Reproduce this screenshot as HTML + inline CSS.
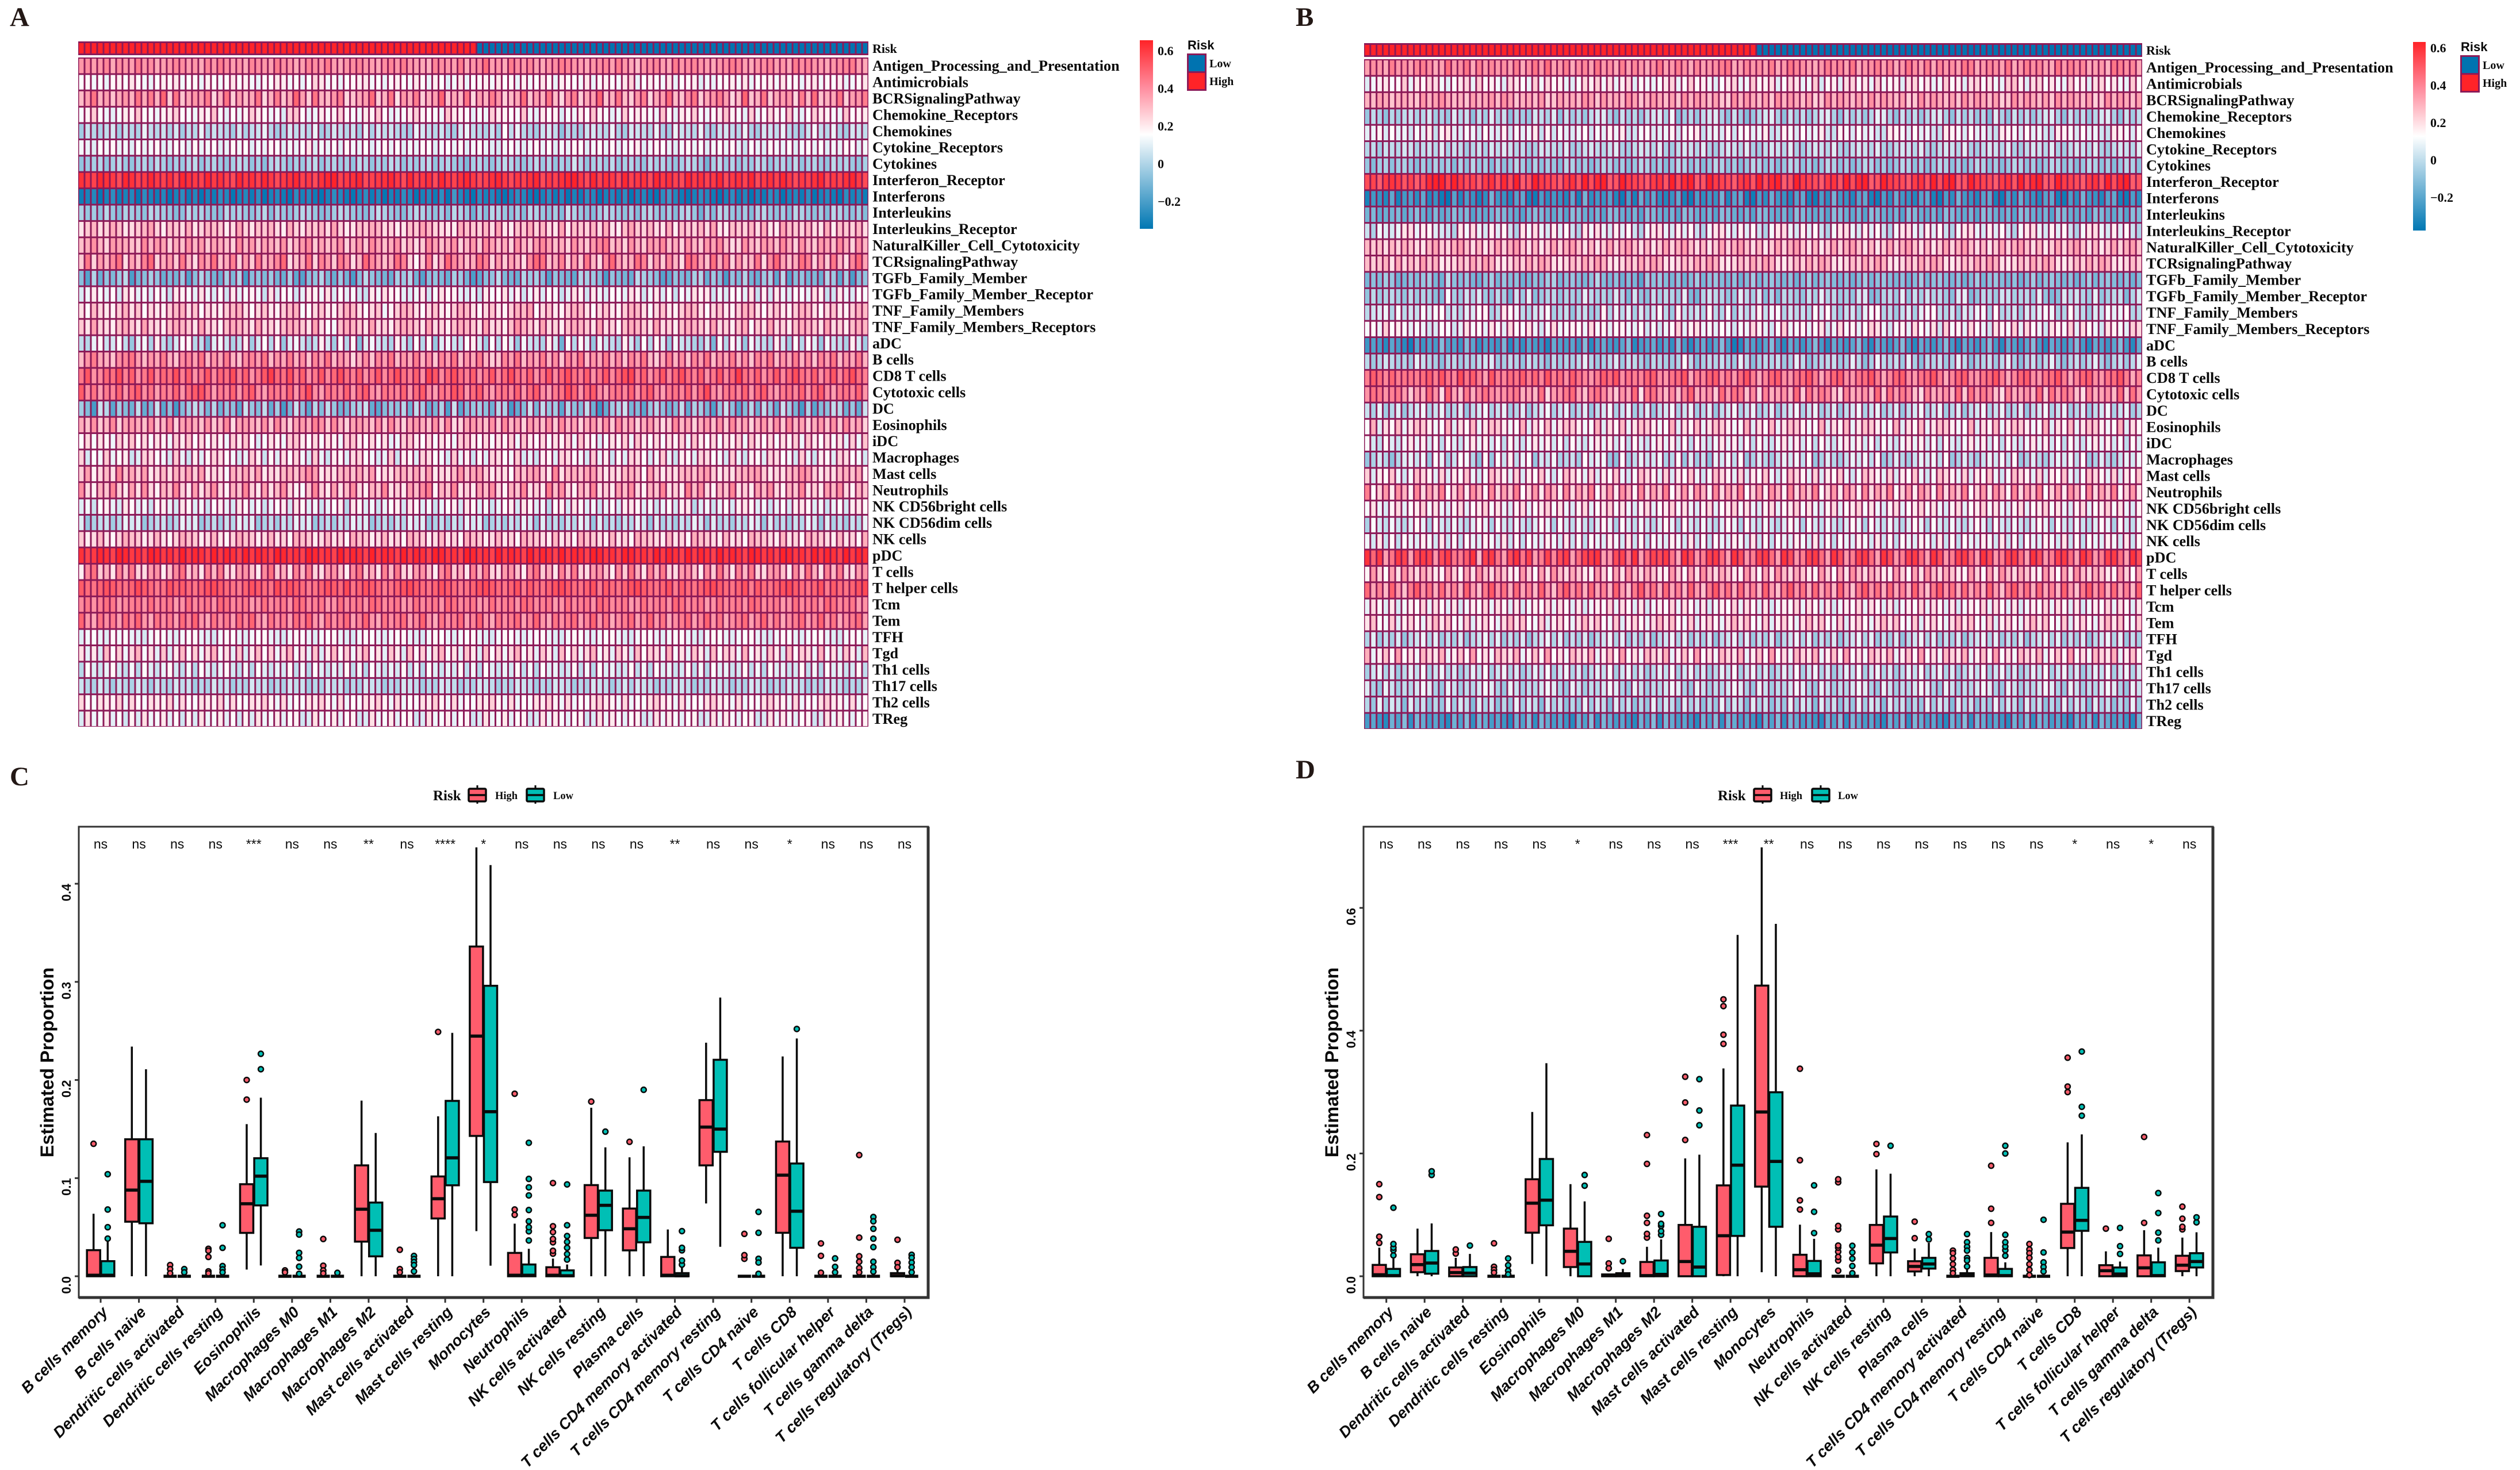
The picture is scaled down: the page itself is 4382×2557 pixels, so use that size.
<!DOCTYPE html>
<html>
<head>
<meta charset="utf-8">
<title>Immune infiltration heatmaps and boxplots</title>
<style>
html,body{margin:0;padding:0;background:#fff}
svg{display:block}
.ser{font-family:"Liberation Serif",serif;font-weight:bold;fill:#0a0a0a}
.san{font-family:"Liberation Sans",sans-serif;fill:#0a0a0a}
</style>
</head>
<body>
<svg id="fig" xmlns="http://www.w3.org/2000/svg" width="4382" height="2557" viewBox="0 0 4382 2557">
<defs>
<linearGradient id="cbGrad" x1="0" y1="0" x2="0" y2="1">
<stop offset="0" stop-color="#ff2328"/><stop offset="0.25" stop-color="#ff8c9e"/><stop offset="0.5" stop-color="#ffffff"/><stop offset="1" stop-color="#0077b3"/>
</linearGradient>
</defs>
<rect width="4382" height="2557" fill="#fff"/>
<text class="ser" x="17" y="45" font-size="47" style="fill:#231815">A</text>
<text class="ser" x="2253" y="45" font-size="47" style="fill:#231815">B</text>
<text class="ser" x="17" y="1366" font-size="47" style="fill:#231815">C</text>
<text class="ser" x="2253" y="1354" font-size="47" style="fill:#231815">D</text>
</svg>
<script>
const heatRows=["Antigen_Processing_and_Presentation","Antimicrobials","BCRSignalingPathway","Chemokine_Receptors","Chemokines","Cytokine_Receptors","Cytokines","Interferon_Receptor","Interferons","Interleukins","Interleukins_Receptor","NaturalKiller_Cell_Cytotoxicity","TCRsignalingPathway","TGFb_Family_Member","TGFb_Family_Member_Receptor","TNF_Family_Members","TNF_Family_Members_Receptors","aDC","B cells","CD8 T cells","Cytotoxic cells","DC","Eosinophils","iDC","Macrophages","Mast cells","Neutrophils","NK CD56bright cells","NK CD56dim cells","NK cells","pDC","T cells","T helper cells","Tcm","Tem","TFH","Tgd","Th1 cells","Th17 cells","Th2 cells","TReg"];
const riskCountsA=[63,62];
const riskCountsB=[63,62];
const cbTicks=[0.6,0.4,0.2,0,-0.2];
const rowMeansA=[0.38,0.17,0.36,0.18,0.03,0.13,-0.02,0.60,-0.30,-0.03,0.27,0.33,0.35,-0.08,0.14,0.24,0.27,0.07,0.36,0.47,0.44,-0.05,0.33,0.20,0.17,0.28,0.30,0.13,0.03,0.25,0.62,0.33,0.50,0.43,0.42,0.13,0.20,0.09,0.03,0.20,0.14];
const rowMeansB=[0.35,0.14,0.29,-0.02,0.07,0.00,-0.06,0.55,-0.27,-0.15,0.08,0.26,0.25,-0.10,-0.03,0.03,0.13,-0.20,-0.01,0.41,0.36,0.00,0.18,0.08,0.02,0.15,0.27,0.13,0.04,0.08,0.45,0.25,0.38,0.12,0.16,-0.01,0.20,0.01,0.00,-0.02,-0.22];
const residualsA=[
"mnlmoknmlpmnklmonlmkompnlmkonmlpnmklonmplkmnomlknompmlkjonmlpkmnrlmkpnmolkmnpomlkmnolpmkimnolkpmnomlkmnpolkmnolmkpnomlkmnoplk",
"lmkljmnlomkjlnmoklmjnlkmolnkjmlonkmjlqokmjlmnokljmnlkomjnlikojlmnkolmjnklomjnmlkojmnlkoqjlnmkojlmnikjlmnkojlmnkolmjnokmlnjkmor",
"jmrkmilnkrlqkthrilnmqgkrhmjlrgkqiltmhrkjnqgilmshkrfnlqhkmtiljrgmkqnhjlsimkrjgnqhlmtikrjhnqglmsjiorhlnqmgjtikrhlmngqjsiklrhmnqg",
"kmqljiknmrlkjmnqlkjnmrkiljmqnljkhqrlijnkmqlkjnmrlijknqmlkjrnmlikjqnmlkrjinlmhkjnlrmkijqlnmkjrlinmqkjlnrmkiqjlpmkrjilqnmkjrlmnq",
"jnlkmojnlkqmlnkojmlqknmljokmnqljkomnlqjkomlnjqkomnlkjqomlnkjoqmlknjsmqlkjnomhlkjnomlqkjonmlqkjqnmlqkjnomlqkjonmqlkjnrmlqkjonml",
"mlknmolmknlmoklnmkolmnklomnkmlonkmlnqkmlnkomlnkmolnkmlonkmnlokmnlkjmnlkmolnkmlonkmnlokmnpkmonlkmolnkmnlokinlkomlnkmolnkmlonkmn",
"klmnkmolkmnlomkmlnokmnlkmonkmjnomkmlnokmnlmkonkmlonkmlnokmnlkimnlkmonlkmolnkmlqnkmnlokmnlkomnlkmonlhmolnkmlonkmnlokmnlkomnlkm",
"nmlonmkonlmomlnkonmlomnlkomnlomkmnolmknoplmnoklmnomkolmnkomlnomklnomkmlnokmlnopmkolnmkolmnkomnlkomnlmokmnlokmnlomkmlnokmlnomk",
"lmnkmolmnkomlnkmolnkmlonkmnlokmnlkomnlkmonlkmolnkmlonkmnlokqnlkomnlkmonlkmolnkmlonkmnlokmnlkoqnlkmonlkmolnkmlonkmnlokmnlkomnl",
"nlmkoljnmlkonmljkomnlkjomnlkmojnlkmonljkmonlkjmpnlkjmonlkmjonlhmjonlkmjonlkmjqnlkjmonlkmjnolkmjnolhmjonlkmjnolkmjonlkmjonlkmjo",
"jmoklpnjkmoqlinmkpjlonmikqljnmokipljnmokqlijnmpoklijnmqolkjipnmlokqjinmplokjqinmlokpjinqmlokjpinmlokqjinmlokpjiqnmlokjpinmlokq",
"kmplionmkjqlonimkplojnmkiqlojnmkpiloqjnkmpilojqnkmpilhjqnkmpilojqnkmipljoqnkmipljoqskmipljonqkmipljonqkhipljonkqmipljonkqmipljo",
"irhnkpsgmjqthlnirkgpmsjlqhnirkmptgjlshqnirogktpmjlsqhdirgktpmjlsqhnimkgptsjlqhnirkgptmjlsqhnipkgtrmjslqhnikrgptmjlsqhnirkgptmj",
"mhqjnlorgkmpnjlkohmqnkjplqgmnlokjpihmnqljokgmrnlkjpoqkhmnljpokgimnrlkjqopmhnlkiqpomgnlkjrpomhinlkpqjomgnlqkjopirhmnkljqoipgmnk",
"jlpmkniqokmjnlhpomkqljnipkmolhqjnmikpolqjnkmihplqonkjlpimqnokjlhpmnqkoilpjnmhkqoipljnmkqoilpjnhmkqopiljnmkqhoipljnmkqohipljnmk",
"lipmkjnqloimkjnpqloimkjnpqlimokjnpqhimokjnqplimogjnqplimokjnqplimokjnqpsimokjnqplimokjnqplhmokjnqplimokjnqplimokjnqplimokjnqpl",
"mjqlkinpmjqlkinpomjqlkhnpomjqklinpomjqkgfnpomjqklinpomjqklinpomjqklinsomjqklinpomjqklhnpomjqklinpomjqklinpgmjqklinpomjqklinpom",
"kjorlmqkgnpiskhmqrjkdnplikshmqjrgnpliksmhqjrenplkismhqjrgnplkqsmhqjrngplkismcqjrngplkismhqjrngplkihmdqjrngplkismhqjrngplkismhqr",
"jnqlkioprmjnlqkiopmrjnlqkiopmrjnlqkoipmrjnlgkoipmrjnlqkoipmrjnlqkhipmrjnlqkoipmrjnlqkoipmrjhlqkoipmrjnlqkoipmrjnlqkoipmrjnlqko",
"lpijnmqkoilpjnmqkoilpjnmqkoilpsnmqkoilpjnqmkoilpjnqmkoirpjnqmkoilpjnqmkoilpjnqmkoilpjnqrkoilpjnqmkoilpjnsmkoilpjnqmkoilpjnqmko",
"qknimlpjoqknimlpjoqrnimlpjoqkinmlpjoskinmlpjoqkinmlpjoqkinmrpjoqkimnlpjoqkimnspjoqkimnlpjoqkimnlpjoskimnlpjoqkimnlpjoqkimnlpjo",
"nkerpgnkiqhjrgleknqojpimlgrmkqhnejrlgpkqmijnorhgkmlpiqnhjofrgkmnlipoehkrjqmngplkqidhnorjkgmplikqhonjfmrlgkpiqmhrnjeogklqpimhrn",
"mkpjlqinomkpjlqinomkpjlqhnomkpjqlinomrpjqlinomkpjqlinomkpjqhinomkpjqlniomkpjqlnimokpjqlnimokhjqlnimokpjqlnimokpjqlnimokpjqlnim",
"kojnlipmqkojnlipmqkojnlipmqkgjnlipqmkojnlipqmkojnhipqmkojnlipqmkojnlpiqmkojnlpiqmkgjnlpiqmkojnlpiqmkojnlpiqmkojnlpiqmkojnhpiqm",
"qhlkrjmngiqplkhrjgnimqplkhjrngmiplqkhrjgnmipqlkhjrgnmiqplkhrjngmiqplkrhjgnmiqplkhrjngmiqplhkrjgnmiqplkhrjgnmiqplkhrjgnmiqplkhr",
"lqhknjtmplqiknjomplqikjfomplqikjnompsqikjnomplqhkjnomplqikjnrmpqlikjgompqlitjnompqlikjnomgqlikjnompqlikjnopqlikjnosqlikjnomphj",
"rjgnlskhpirjgnlskhpimrjgnlskhpimrjgelskhpimrjgnlsikhpmrtgnlsikhpmrjgnlsikhtmrjgnlsikhpmrjgnlsikhtmrjgnlsikhpmrjgnlsikhpmrjgnls",
"kminpljqokmiopljqokminpljqokmilnpjqokmilnpgqokmilnpjqokmilnpjqokmilnpjqokmgnpjqokmilnjpqokmilnjpqgkmilnjpqokmilnjpqokmilnjpqo",
"pikmnjlqopikmnjlqopikmjnlqopikmjnlqopikmjnlqopikmjnlqopikmjnlqopikmjnlqoipkmjnlqoipkmjnlqoipkmjnlqoipkmjnlqoipkmjnlqoipkmjnlqo",
"njlpkimqonjlpkimqonjlpkimqonjlpkmiqonjlpkmiqonjlpkmiqonjlpkmiqonjlpkmiqonljpkmiqonljpkmiqonljpkmiqonljpkmiqonljpkmiqonljpkmiqo",
"mklnmkonlmkonlmkolnmkolnmkolnmkonlmkonlmkolnmkolnmkolnmkonlmkonlmkolnmkolnmkolnmkonlmkonlmkolnmkolnmkolnmkonlmkonlmkolnmkolnmk",
"fqtjmgrlsihopfkqtjmgrlsihopkfqtjmgrlsihopkfqtjmgrlsihopkfqtjmgrlsihopkfqtjmgrlsihopkfqjtmgrlsihopkfqjtmgrlsihopkfqjtmgrlsihopk",
"nlkmonlkmpnljkomnlkmopnlkjmonlkpmonljkmonlpkmonljkmopnlkmonljkmopnlkmojnlkmopnlkmojnlkmopnlkmojnlkmopnlkmojnlkmopnlkmojnlkmopn",
"lnkmonjlmnkolmnjkolmnkpolmnjkolmnkpolmnjkolmnkpolmnjkolmnkpolmnjkolmnkpolmnjkolmnkpolmnjkolmnkpolmnjkolmnkpolmnjkolmnkpolmnjko",
"qkiolnjpmqkiolnjpmqkiolnjpmqkiolnjpmqkiolnpjmqkiolnpjmqkiolnpjmqkiolnpjmqkiolnpjmqkoilnpjmqkoilnpjmqkoilnpjmqkoilnpjmqkoilnpjm",
"kmnlkomnlkjmonlkmnolkjmonlkmnolkjmonlkmnolkjmonlkmnolkjmonlkmnolkjmonlkmnolkjmonlkmnolkjmonlkmnolkjmonlkmnolkjmonlkmnolkjmonlk",
"nhmgrkpiosjnhqgmrkpiosjnhqgmrkpiosjnhqgmrkpiosjnhqmgrkpiosjnhqmgrkpiosjnhqmgrkpiosjnhqmgrkpoisjnhqmgrkpoisjnhqmgrkpoisjnhqmgrk",
"ipmknqljoipmknqljoipmknqljoipmknlqjoipmknlqjoipmknlqjoipmknlqjoipmknlqjoipmnklqjoipmnklqjoipmnklqjoipmnklqjoipmnklqjoipmnklqjo",
"nlkomjnlkomjnlkomnjlkomnjlkomnjlkomnjlkomnjlkonmjlkonmjlkonmjlkonmjlkonmjlkonmjlkonmjlokonmjlkonmjlkonmjlkonmjlkonmjlkonmjlkon",
"okjnmlpiokjnmlpiokjnmlpiokjnmplioikjnmplioikjnmplioikjnmplioikjnmplioikjnmplioikjnpmlioikjnpmlioikjnpmlioikjnpmlioikjnpmlioikj",
"jqlmpkniojqlmpkniojqlmpkniojqlmpknoijqlmpknoijqlmpknoijqlmpknoijqlmpknoijqlpmknoijqlpmknoijqlpmknoijqlpmknoijqlpmknoijqlpmknoi"
];
const residualsB=[
"lnmkpmnlopnklrmnqkpmomnlpknqmrlmpknolqmnkplomknqlmpnkolmnpqklomnlpkmqonlkmpnolqkmnplokmqnlpkomnlqpkmonlqkmpnolkqmpnoklmjqpnokl",
"iknolmrjomqpkiloqjrmnkiqoljrkqmnjilqnrkpjnqimkjloqjmrmnkiloqjkrmnpilqojkrhmnipqlojrkmnipqlojkrmnipqlokjrsnipqlokjrmnipqlokjrmn",
"mlonkmnlkpmoqnlmkomnplqokmnlpjkomnlqokpmnlqokmpnlokqmpnlokjqmpnlokqmpnlojkqmpnlokqmpnlojkqmpnlokqmpnlojkqmpnlokqmpnlojkqmpnlok",
"jnlimknolmpkljqmoinkqloimkjpnlqiokmjnpqliokmjnpqlshkmjnpqliokhjmpqlioknjmpqlioknjmrqlioknjmpqlioknjmhqlioknjmpqlioknjmpqlioknj",
"mnqlpmnkomrjqsmlonkpmlqkomnrjqkomlnpkomqnrjkoplmnqkoprjmnlqkopmnrjkqolpmnrkjqolpmnkjrqolpmnkjrqolpmnkjrqolpmnkjrqolpmnkjrqolpm",
"lmjnmlonkmnlpknmjlnkompnlmjkonmlpjknomlnpkjmonlpkjmonlpkjmonlpkjmonlpkjmonlpkjmonlpkjmonlpkjmonlpkjmonlpkjmonlpkjmonlpkjmonlpk",
"ljmnkmnljmknlmjnkolmjnklomjnkmljonkmjlonkmjlonkmjlonkmjlonkmjlonkmjlonkmjlonkmjlonkmjlonkmjlonkmjlonkmjlonkmjlonkmjlonkmjlonkm",
"lmjnonkmjlprsmqnlmjnokplrjksnmljnokqlprjksnmljnokqlprjksnmljnokqlprjksnmljnokqlprjksnmljnokqlprjksnmljnokqlprjksnmljnokqlprjks",
"jnmkqjnolqkmihpkomjlsnmkpqjiolnmkqjslnmpkiojrnqlkmqjiolnmskpqjiolrnmkpqjiolsnmkpqjiolrnmkpqjiolsnmkpqjiolrnmkpqjiolsnmkpqjiolr",
"mnklmnkmoljnklomnjlkmonlkjmonlkmjonlkmjonlkmjonlkmjonlkmjonlkmjonlkmjonlkmjonlkmjonlkmjonlkmjonlkmjonlkmjonlkmjonlkmjonlkmjonlk",
"jgnlkmrsmqplkjgrnsmkqlpjgrnsmkqlpjgrnsmkqlpjgnrsmkqlpjgnrsmkqlpjgnrsmkqlpjgnrsmkqlpjgnrsmkqlpjgnrsmkqlpjgnrsmkqlpjgnrsmkqlpjgn",
"nlmjnkomjinplkoqmjnilpkoqmjnilpkoqmjnilpkoqmjnilpkoqmjnilpkoqmjnilpkoqmjnilpkoqmjnilpkoqmjnilpkoqmjnilpkoqmjnilpkoqmjnilpkoqmjn",
"nlmojpknlqmoijknlpmqojiknlpmqojiknlpmqojiknlpmqojiknlpmqojiknlpmqojiknlpmqojiknlpmqojiknlpmqojiknlpmqojiknlpmqojiknlpmqojiknlpm",
"kmlonjkmlnokjrmlnkjmoknlmjkmlopkmnlkmqlkmjlkhomnlkmjlokmnlkmjlokmnlkmjlokmnlkmjlokmnlkmjlokmnlkmjlokmnlkmjlokmnlkmjlokmnlkmjlo",
"jnkmnljnkmlihtlkpmqkjnlgpkrikmnjmlkrnlmkqmhpjiolnmkrhgmpnmjkrnlqimhnmkjolrmnkljpqhimnkrjolpmnkiqrhjnmkpolmnkrjhiqnpmkrjlnohmqi",
"kmnpjqkmlqnqrkmjonrsiktrpkjmnqijlgklhisjpkoinjmqkhslkmjrkjqhnkmslpqjmkljqnrkhlmioqrjkhlnioqrkjmhnlpqirjkmhnloqpijrmkhnlqoprjkm",
"lmkrmoljlkhimlhjplmjpljqmlpkhlqklnmkqlnjmnkjmhlhkmrjnpkljmkhlkqnjhmrklnjmphkqlnjmrpkhlnjqmkphrlnjqmkhpnlrjqmkhpnlrjqmkhpnljrq",
"jlkhmkhfmjlkqlljqmilkjphlimkjgnlkmjqhlnkjmqhklnjmiqkhlnjmqkfhnljmqkhnljmqkhnljmqkhnljmqkhnljmqkhnljmqkhnljmqkhnljmqkhnljmqkhn",
"mjlomkljqnlkhlmjlkmopjkmlinlkhmjlkmqljkmpjnmkhmlkjlsmhkmlnkjqmhkmlnjkqmhklmnjkqmhkrmlnjqkhmlnjkqmhklnjmqkhlnjmqkhlnjmqkhlnjmq",
"mqolpmnnmoqmrnlsnqmirmlonqmplrmokqnljmqorknmlpqkjnorhmlpqknjormhlpqkjnormhlpqkjnormhlpqkjnormhlpqkjnormhlpqkjnormhlpqkjnormhl",
"mqpmoplgljrmeskhpjnqnlmopjkiqelmprkhoqnjgmkrdpqlinhosjkmgrlqphneojkmirgqlpnheojkmirgqlpnheojkmirgqlpnheojkmirgqlpnheojkmirgql",
"nkqjlpimorknqjlpimorknqjlpimorknqjlpimorknqjlpimorknqjlpimorknqjlpimorknqjlpimorknqjlpimorknqjlpimorknqjlpimorknqjlpimorknqjlp",
"jsgnkrhmqplijsgnkrhmqplijsgnkrhmqplijsgnkrhmqplijsgnkrhmqplijsgnkrhmqplijsgnkrhmqplijsgnkrhmqplijsgnkrhmqplijsgnkrhmqplijsgnkr",
"okipljnrmqkoipljnrmqkoipljnrmqkoipljnrmqkoipljnrmqkoipljnrmqkoipljnrmqkoipljnrmqkoipljnrmqkoipljnrmqkoipljnrmqkoipljnrmqkoiplj",
"hjnkgkopmqhrpimrqkgshrmtlprhnmqjkmirnpqhgrilpmnqjkrhoimgpnqlrhjokimpnqlrhjokimpnqlrhjokimpnqlrhjokimpnqlrhjokimpnqlrhjokimpnql",
"qhnlrjgkspmiqhnlrjgkspmiqhnlrjgkspmiqhnlrjgkspmiqhnlrjgkspmiqhnlrjgkspmiqhnlrjgkspmiqhnlrjgkspmiqhnlrjgkspmiqhnlrjgkspmiqhnlrj",
"tfkqhrngsjpltfkqhrngsjpltfkqhrngsjpltfkqhrngsjpltfkqhrngsjpltfkqhrngsjpltfkqhrngsjpltfkqhrngsjpltfkqhrngsjpltfkqhrngsjpltfkqhrn",
"lpkinqjmorlpkinqjmorlpkinqjmorlpkinqjmorlpkinqjmorlpkinqjmorlpkinqjmorlpkinqjmorlpkinqjmorlpkinqjmorlpkinqjmorlpkinqjmorlpkinq",
"iqmkpljnroiqmkpljnroiqmkpljnroiqmkpljnroiqmkpljnroiqmkpljnroiqmkpljnroiqmkpljnroiqmkpljnroiqmkpljnroiqmkpljnroiqmkpljnroiqmkpl",
"nkrjpiomlqnkrjpiomlqnkrjpiomlqnkrjpiomlqnkrjpiomlqnkrjpiomlqnkrjpiomlqnkrjpiomlqnkrjpiomlqnkrjpiomlqnkrjpiomlqnkrjpiomlqnkrjpi",
"tnsglsrgqsrhqslkotdrslgqtlrgkrjqsgmrstghqrktgmrqslftqhkrsmgtqhkrsmgtqhkrsmgtqhkrsmgtqhkrsmgtqhkrsmgtqhkrsmgtqhkrsmgtqhkrsmgtqh",
"hrlgqjsnkpmihrlgqjsnkpmihrlgqjsnkpmihrlgqjsnkpmihrlgqjsnkpmihrlgqjsnkpmihrlgqjsnkpmihrlgqjsnkpmihrlgqjsnkpmihrlgqjsnkpmihrlgqj",
"qjnhrkgoslpiqjnhrkgoslpiqjnhrkgoslpiqjnhrkgoslpiqjnhrkgoslpiqjnhrkgoslpiqjnhrkgoslpiqjnhrkgoslpiqjnhrkgoslpiqjnhrkgoslpiqjnhrk",
"kqnjpilomrkqnjpilomrkqnjpilomrkqnjpilomrkqnjpilomrkqnjpilomrkqnjpilomrkqnjpilomrkqnjpilomrkqnjpilomrkqnjpilomrkqnjpilomrkqnjpi",
"nrkjqhmpliosnrkjqhmpliosnrkjqhmpliosnrkjqhmpliosnrkjqhmpliosnrkjqhmpliosnrkjqhmpliosnrkjqhmpliosnrkjqhmpliosnrkjqhmpliosnrkjqh",
"lqjnkpimorlqjnkpimorlqjnkpimorlqjnkpimorlqjnkpimorlqjnkpimorlqjnkpimorlqjnkpimorlqjnkpimorlqjnkpimorlqjnkpimorlqjnkpimorlqjnkp",
"rgkpjtimhqnlrgkpjtimhqnlrgkpjtimhqnlrgkpjtimhqnlrgkpjtimhqnlrgkpjtimhqnlrgkpjtimhqnlrgkpjtimhqnlrgkpjtimhqnlrgkpjtimhqnlrgkpjt",
"jnqkoilpmrjnqkoilpmrjnqkoilpmrjnqkoilpmrjnqkoilpmrjnqkoilpmrjnqkoilpmrjnqkoilpmrjnqkoilpmrjnqkoilpmrjnqkoilpmrjnqkoilpmrjnqkoi",
"pkiqnjmlorpkiqnjmlorpkiqnjmlorpkiqnjmlorpkiqnjmlorpkiqnjmlorpkiqnjmlorpkiqnjmlorpkiqnjmlorpkiqnjmlorpkiqnjmlorpkiqnjmlorpkiqnj",
"mjrkpnhqloimjrkpnhqloimjrkpnhqloimjrkpnhqloimjrkpnhqloimjrkpnhqloimjrkpnhqloimjrkpnhqloimjrkpnhqloimjrkpnhqloimjrkpnhqloimjrkp",
"lnkipmrjqolnkipmrjqolnkipmrjqolnkipmrjqolnkipmrjqolnkipmrjqolnkipmrjqolnkipmrjqolnkipmrjqolnkipmrjqolnkipmrjqolnkipmrjqolnkipm"
];
const cellTypes=["B cells memory","B cells naive","Dendritic cells activated","Dendritic cells resting","Eosinophils","Macrophages M0","Macrophages M1","Macrophages M2","Mast cells activated","Mast cells resting","Monocytes","Neutrophils","NK cells activated","NK cells resting","Plasma cells","T cells CD4 memory activated","T cells CD4 memory resting","T cells CD4 naive","T cells CD8","T cells follicular helper","T cells gamma delta","T cells regulatory (Tregs)"];
const sigC=["ns","ns","ns","ns","***","ns","ns","**","ns","****","*","ns","ns","ns","ns","**","ns","ns","*","ns","ns","ns"];
const sigD=["ns","ns","ns","ns","ns","*","ns","ns","ns","***","**","ns","ns","ns","ns","ns","ns","ns","*","ns","*","ns"];
const yTicksC=[0,0.1,0.2,0.3,0.4];
const yTicksD=[0,0.2,0.4,0.6];
const statsHighC=[[0,0,0.001,0.0266,0.0637],[0,0.0556,0.0878,0.1396,0.234],[0,0,0,0,0],[0,0,0,0,0],[0.0068,0.0442,0.0739,0.0938,0.155],[0,0,0,0,0],[0,0,0,0,0],[0,0.0353,0.0683,0.113,0.179],[0,0,0,0,0],[0,0.0589,0.079,0.1017,0.163],[0.046,0.143,0.2447,0.336,0.437],[0,0,0.001,0.0238,0.0536],[0,0,0.001,0.0092,0.018],[0,0.039,0.0622,0.0929,0.1717],[0,0.0264,0.0484,0.069,0.1212],[0,0,0.001,0.0197,0.0477],[0.0742,0.113,0.152,0.1795,0.238],[0,0,0,0,0],[0,0.0443,0.103,0.1373,0.224],[0,0,0,0,0],[0,0,0,0,0],[0,0,0.0005,0.0032,0.006]];
const statsLowC=[[0,0,0.001,0.0154,0.038],[0,0.054,0.0967,0.1396,0.211],[0,0,0,0,0],[0,0,0,0,0],[0.011,0.0722,0.102,0.1203,0.182],[0,0,0,0,0],[0,0,0,0,0],[0,0.0203,0.0469,0.0751,0.146],[0,0,0,0,0],[0,0.0927,0.1207,0.1787,0.248],[0.0108,0.096,0.1677,0.296,0.419],[0,0,0.001,0.012,0.028],[0,0,0.0005,0.006,0.012],[0,0.0469,0.0723,0.0873,0.1314],[0,0.0346,0.06,0.0873,0.1324],[0,0,0.0005,0.0032,0.009],[0.03,0.1268,0.15,0.2206,0.284],[0,0,0,0,0],[0,0.029,0.0663,0.1149,0.2423],[0,0,0,0,0],[0,0,0,0,0],[0,0,0,0,0]];
const outHighC=[[0.135],[],[0.0114,0.0073,0.003],[0.028,0.026,0.0197,0.005,0.003],[0.18,0.2],[0.006,0.004],[0.038,0.0108,0.006,0.003],[],[0.027,0.0073,0.004],[0.249],[],[0.0626,0.068,0.186],[0.023,0.026,0.0346,0.038,0.045,0.051,0.095],[0.178],[0.137],[],[],[0.0432,0.0178,0.0215],[],[0.0335,0.0208,0.0036],[0.1235,0.0394,0.0204,0.0148,0.0084,0.004],[0.0372,0.0137,0.0092]];
const outLowC=[[0.05,0.068,0.104,0.0384],[],[0.0073,0.004],[0.052,0.029,0.0104,0.007,0.004],[0.211,0.2267],[0.0456,0.0425,0.0239,0.0187,0.0098,0.0025],[0.0035],[],[0.0207,0.0176,0.0145,0.0114,0.005],[],[],[0.0365,0.0458,0.05,0.056,0.0675,0.0824,0.0906,0.0992,0.136],[0.017,0.0226,0.029,0.035,0.041,0.052,0.0936],[0.1474],[0.19],[0.0118,0.016,0.0264,0.029,0.046],[],[0.0656,0.0443,0.0178,0.014,0.0025],[0.252],[0.0182,0.0096,0.004],[0.0604,0.056,0.0484,0.0383,0.0297,0.0148,0.0092,0.0047],[0.0219,0.0189,0.014,0.0092,0.004]];
const statsHighD=[[0,0,0.0024,0.0185,0.0466],[0,0.0066,0.019,0.0358,0.0776],[0,0,0.006,0.0143,0.03],[0,0,0,0,0],[0.02,0.071,0.119,0.158,0.2675],[0,0.015,0.0406,0.0776,0.15],[0,0,0.001,0.003,0.004],[0,0,0.001,0.0233,0.048],[0,0,0.024,0.0836,0.192],[0,0.002,0.066,0.148,0.3385],[0.0066,0.146,0.2675,0.4734,0.6985],[0,0,0.0107,0.035,0.084],[0,0,0,0,0],[0,0.021,0.0507,0.0836,0.174],[0,0.0078,0.016,0.0245,0.0454],[0,0,0,0,0],[0,0,0.002,0.03,0.072],[0,0,0,0,0],[0,0.046,0.072,0.118,0.218],[0,0,0.009,0.018,0.0406],[0,0,0.0137,0.034,0.075],[0,0.0084,0.018,0.0334,0.063]];
const statsLowD=[[0,0,0.001,0.012,0.0287],[0,0.0042,0.0215,0.0412,0.086],[0,0,0.005,0.015,0.0364],[0,0,0,0,0],[0,0.083,0.124,0.191,0.347],[0,0,0.02,0.056,0.122],[0,0,0.001,0.005,0.012],[0,0,0.003,0.0257,0.06],[0,0,0.015,0.0806,0.198],[0,0.0657,0.181,0.278,0.556],[0,0.0806,0.187,0.2997,0.574],[0,0,0.004,0.025,0.061],[0,0,0,0,0],[0,0.0388,0.0615,0.0973,0.167],[0,0.0125,0.02,0.03,0.0543],[0,0,0.001,0.005,0.0137],[0,0,0.001,0.012,0.0227],[0,0,0,0,0],[0,0.074,0.091,0.144,0.231],[0,0,0.0036,0.0143,0.024],[0,0,0.001,0.0227,0.0466],[0,0.0143,0.024,0.0376,0.0716]];
const outHighD=[[0.0543,0.0645,0.129,0.15],[],[0.037,0.0436],[0.0537,0.0155,0.0107,0.006],[],[],[0.061,0.021,0.013],[0.063,0.069,0.087,0.0985,0.183,0.23],[0.222,0.283,0.325],[0.3785,0.3934,0.44,0.451],[],[0.1087,0.1236,0.189,0.338],[0.009,0.0257,0.0316,0.04,0.0466,0.05,0.0764,0.082,0.153,0.158],[0.199,0.2155],[0.062,0.089],[0.0418,0.0376,0.029,0.0197,0.0107,0.005],[0.087,0.11,0.18],[0.0525,0.0436,0.0376,0.03,0.0197,0.0107,0.002],[0.3,0.309,0.356],[0.0776],[0.087,0.227],[0.0764,0.0806,0.0937,0.1134]];
const outLowD=[[0.034,0.0424,0.0466,0.0525,0.1116],[0.165,0.171],[0.05],[0.029,0.018,0.009,0.003],[],[0.1475,0.165],[0.0245],[0.0675,0.0734,0.082,0.0854,0.1015],[0.246,0.27,0.321],[],[],[0.0704,0.105,0.148],[0.0496,0.0388,0.0287,0.0167,0.005],[0.2125],[0.06,0.0687],[0.0687,0.0555,0.048,0.0418,0.03,0.0257,0.016],[0.0334,0.0424,0.0484,0.0555,0.0675,0.2,0.2125],[0.092,0.0388,0.0227,0.015,0.0078],[0.2615,0.276,0.366],[0.0364,0.049,0.0788],[0.0585,0.071,0.103,0.1355],[0.0878,0.096]];

const NS='http://www.w3.org/2000/svg';
const fig=document.getElementById('fig');
function mk(tag,parent,attrs){const e=document.createElementNS(NS,tag);for(const k in attrs)e.setAttribute(k,attrs[k]);parent.appendChild(e);return e;}
function lerp(a,b,t){return a.map((v,i)=>Math.round(v+(b[i]-v)*t));}
function heatColor(v,lo,mid,hi){
  const blue=[0,119,179],white=[255,255,255],pink=[255,140,158],red=[255,35,40];
  let c;
  if(v<mid){c=lerp(blue,white,Math.max(0,(v-lo)/(mid-lo)));}
  else{const t=Math.min(1,(v-mid)/(hi-mid));c=t<0.5?lerp(white,pink,t*2):lerp(pink,red,(t-0.5)*2);}
  return 'rgb('+c.join(',')+')';
}
function drawHeat(cfg){
  const g=mk('g',fig,{});
  
  
  const nCols=cfg.riskCounts[0]+cfg.riskCounts[1];
  const pw=(cfg.x1-cfg.x0)/nCols, ph=(cfg.y1-cfg.y0)/heatRows.length, gap=3;
  const barBg=mk('rect',g,{x:cfg.x0,y:cfg.barY0,width:cfg.x1-cfg.x0,height:cfg.barY1-cfg.barY0,fill:'#8c1a58'});
  
  
  for(let c=0;c<nCols;c++){
    const cell=mk('rect',g,{x:cfg.x0+c*pw+gap/2,y:cfg.barY0+gap,width:pw-gap,height:cfg.barY1-cfg.barY0-2*gap,fill:c<cfg.riskCounts[0]?'#ff2328':'#0073b0'});
    
    
  }
  const bg=mk('rect',g,{x:cfg.x0,y:cfg.y0,width:cfg.x1-cfg.x0,height:cfg.y1-cfg.y0,fill:'#8c1a58'});
  
  
  heatRows.forEach((row,r)=>{
    const s=cfg.residuals[r];
    for(let c=0;c<nCols;c++){
      const code=s.charCodeAt(c);
      const v=cfg.means[r]+((isNaN(code)?109:code)-109)*0.02;
      const cell=mk('rect',g,{x:cfg.x0+c*pw+gap/2,y:cfg.y0+r*ph+gap/2+0.5,width:pw-gap,height:ph-gap,fill:heatColor(v,cfg.lo,cfg.mid,cfg.hi)});
      
      
    }
    const t=mk('text',g,{x:cfg.x1+7,y:cfg.y0+(r+0.5)*ph+9,'font-size':26.2,class:'ser'});
    t.textContent=row;
    
    
  });
  const rl=mk('text',g,{x:cfg.x1+7,y:(cfg.barY0+cfg.barY1)/2+8,'font-size':22,class:'ser'});
  rl.textContent='Risk';
  
  
  const cb=mk('rect',g,{x:cfg.cbX,y:cfg.cbY0,width:cfg.cbW,height:cfg.cbY1-cfg.cbY0,fill:'url(#cbGrad)'});
  
  
  cbTicks.forEach(tv=>{
    const yy=cfg.cbY0+(cfg.hi-tv)/(cfg.hi-cfg.lo)*(cfg.cbY1-cfg.cbY0);
    const t=mk('text',g,{x:cfg.cbX+cfg.cbW+8,y:yy+8,'font-size':22,class:'ser'});
    t.textContent=tv<0?'\u2212'+Math.abs(tv):String(tv);
    
    
  });
  const lt=mk('text',g,{x:cfg.legX+1,y:cfg.legY-7,'font-size':22,class:'san','font-weight':'bold'});
  lt.textContent='Risk';
  
  
  const lb=mk('rect',g,{x:cfg.legX,y:cfg.legY,width:34,height:65,fill:'#8c1a58'});
  
  
  [['Low','#0073b0'],['High','#ff2328']].forEach((e,i)=>{
    const sw=mk('rect',g,{x:cfg.legX+3,y:cfg.legY+3+i*31,width:28,height:28,fill:e[1]});
    
    
    const tx=mk('text',g,{x:cfg.legX+39,y:cfg.legY+24+i*31,'font-size':20,class:'ser'});
    tx.textContent=e[0];
    
    
  });
}
drawHeat({name:'heatmap-a',riskCounts:riskCountsA,means:rowMeansA,residuals:residualsA,x0:136,x1:1510,y0:100,y1:1264,barY0:72,barY1:96,lo:-0.347,mid:0.154,hi:0.655,cbX:1982,cbW:23,cbY0:70,cbY1:398,legX:2064,legY:93});
drawHeat({name:'heatmap-b',riskCounts:riskCountsB,means:rowMeansB,residuals:residualsB,x0:2372,x1:3725,y0:103,y1:1268,barY0:75,barY1:99,lo:-0.378,mid:0.126,hi:0.63,cbX:4196,cbW:22,cbY0:73,cbY1:401,legX:4278,legY:96});

function drawBox(cfg){
  const g=mk('g',fig,{});
  
  
  const Y=v=>cfg.y0-v*cfg.pxPerUnit, X=i=>cfg.x0+i*cfg.pitch;
  const frame=mk('rect',g,{x:cfg.left,y:1438,width:cfg.right-cfg.left,height:819,fill:'#fff',stroke:'#333',"stroke-width":3});
  
  
  const thick=mk('path',g,{d:`M${cfg.left} 2257H${cfg.right}V1438`,fill:'none',stroke:'#333','stroke-width':5});
  
  
  cfg.yTicks.forEach(tv=>{
    const tk=mk('line',g,{x1:cfg.left-7,x2:cfg.left,y1:Y(tv),y2:Y(tv),stroke:'#333','stroke-width':3});
    
    
    const bx=cfg.left-14,by=Y(tv);
    const t=mk('text',g,{x:bx,y:by,'font-size':22,'font-weight':'bold','text-anchor':'end',class:'san',transform:`rotate(-90 ${bx} ${by})`});
    t.textContent=tv.toFixed(1);
    
    
  });
  const tx=cfg.left-44,ty=1848;
  const title=mk('text',g,{x:tx,y:ty,'font-size':32.5,'font-weight':'bold','text-anchor':'middle',class:'san',transform:`rotate(-90 ${tx} ${ty})`});
  title.textContent='Estimated Proportion';
  
  
  cellTypes.forEach((name,i)=>{
    const xc=X(i);
    const tk=mk('line',g,{x1:xc,x2:xc,y1:2257,y2:2266,stroke:'#333','stroke-width':3});
    
    
    const ax=xc+14,ay=2284;
    const t=mk('text',g,{x:ax,y:ay,'font-size':27,'font-weight':'bold','font-style':'italic','text-anchor':'end',class:'san',transform:`rotate(-45 ${ax} ${ay})`});
    t.textContent=name;
    
    
    const sg=mk('text',g,{x:xc,y:1476,'font-size':23,'text-anchor':'middle',class:'san'});
    sg.textContent=cfg.sig[i];
    
    
    [[cfg.statsHigh,cfg.outHigh,-12.3,'#ff5c6c','high'],[cfg.statsLow,cfg.outLow,12.3,'#00bfb5','low']].forEach(grp=>{
      const st=grp[0][i],bx=xc+grp[2],col=grp[3],bw=23;
      const wh=mk('line',g,{x1:bx,x2:bx,y1:Y(st[0]),y2:Y(st[4]),stroke:'#0a0a0a','stroke-width':3.5});
      
      
      const bo=mk('rect',g,{x:bx-bw/2,y:Y(st[3]),width:bw,height:Y(st[1])-Y(st[3]),fill:col,stroke:'#0a0a0a','stroke-width':3.5});
      
      
      const md=mk('line',g,{x1:bx-bw/2,x2:bx+bw/2,y1:Y(st[2]),y2:Y(st[2]),stroke:'#0a0a0a','stroke-width':5.5});
      
      
      grp[1][i].forEach(v=>{
        const p=mk('circle',g,{cx:bx,cy:Y(v),r:4.5,fill:col,stroke:'#0a0a0a','stroke-width':2.5});
        
        
      });
    });
  });
  const L=cfg.leg;
  const rk=mk('text',g,{x:L.risk,y:1392,'font-size':25,class:'ser'});
  rk.textContent='Risk';
  
  
  [['High','#ff5c6c',L.k1,L.t1],['Low','#00bfb5',L.k2,L.t2]].forEach(e=>{
    const wl=mk('line',g,{x1:e[2]+15,x2:e[2]+15,y1:1366,y2:1398,stroke:'#0a0a0a','stroke-width':3});
    
    
    const kr=mk('rect',g,{x:e[2],y:1372,width:30,height:22,fill:e[1],stroke:'#0a0a0a','stroke-width':3.5,rx:2});
    
    
    const km=mk('line',g,{x1:e[2],x2:e[2]+30,y1:1383,y2:1383,stroke:'#0a0a0a','stroke-width':3.5});
    
    
    const kt=mk('text',g,{x:e[3],y:1390,'font-size':18.5,class:'ser'});
    kt.textContent=e[0];
    
    
  });
}
drawBox({name:'boxplot-c',left:137,right:1614,x0:175,pitch:66.57,y0:2220,pxPerUnit:1707,yTicks:yTicksC,sig:sigC,statsHigh:statsHighC,statsLow:statsLowC,outHigh:outHighC,outLow:outLowC,leg:{risk:753,k1:815,t1:861,k2:916,t2:962}});
drawBox({name:'boxplot-d',left:2371,right:3848,x0:2410.7,pitch:66.5,y0:2220,pxPerUnit:1068,yTicks:yTicksD,sig:sigD,statsHigh:statsHighD,statsLow:statsLowD,outHigh:outHighD,outLow:outLowD,leg:{risk:2987,k1:3050,t1:3095,k2:3151,t2:3196}});
</script>
</body>
</html>
